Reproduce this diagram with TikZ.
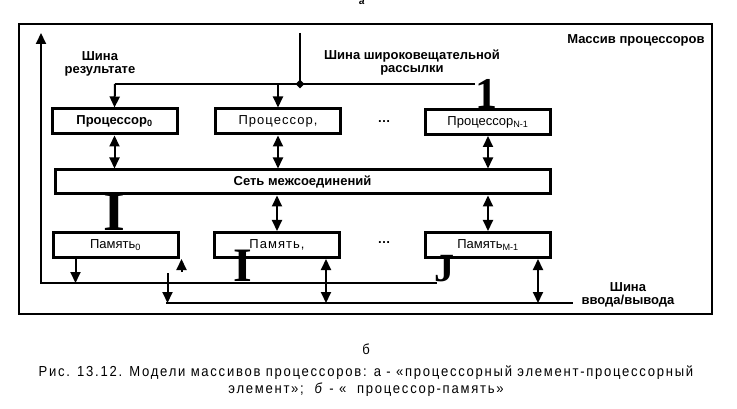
\documentclass[tikz,border=0pt]{standalone}
\usepackage{fontspec}
\setmainfont{Liberation Sans}
\newfontfamily\capfont[FakeStretch=0.9,LetterSpace=12]{Liberation Sans}
\newfontfamily\wideboxfont[LetterSpace=8]{Liberation Sans}
\newfontfamily\scanfont{Liberation Serif}
\usetikzlibrary{arrows.meta,shapes.geometric}

\begin{document}
\begin{tikzpicture}[x=1pt,y=-1pt,
        box/.style={draw,line width=3pt,minimum width=125pt,minimum height=25pt,inner sep=0pt,
          font=\fontsize{13}{13}\selectfont},
        arr/.style={line width=2pt,-{Triangle[length=11pt,width=10pt]}},
        darr/.style={line width=2pt,{Triangle[length=11pt,width=10pt]}-{Triangle[length=11pt,width=10pt]}},
        bus/.style={line width=2.6pt},
        lbl/.style={font=\bfseries\fontsize{13}{13}\selectfont,align=center,inner sep=0pt},
        scan/.style={inner sep=0pt}]
        \useasboundingbox (0,0) rectangle (737,409);
        \node[font=\itshape\bfseries\fontsize{10}{10}\selectfont] (a) at (362,2) {а};
        \node[draw,line width=1.6pt,minimum width=693pt,minimum height=290pt,inner sep=0pt] (frame) at (365.5,169) {};
        \node[lbl,anchor=north east] (title) at ([xshift=-8pt,yshift=-11pt]frame.north east) {Массив процессоров};
        % processors
        \node[box,font=\bfseries\fontsize{13}{13}\selectfont] (p0) at (114.5,121.5) {Процессор\textsubscript{0}};
        \node[box,font=\wideboxfont\fontsize{13}{13}\selectfont] (p1) at (278,121.5) {Процессор,};
        \node[box] (pn) at (488,122) {Процессор\textsubscript{N-1}};
        \node[font=\bfseries\fontsize{13}{13}\selectfont] (d1) at (384,122) {\dots};
        \node[box,minimum width=495pt,minimum height=24pt,font=\bfseries\fontsize{13}{13}\selectfont] (net) at (302.5,182) {Сеть межсоединений};
        % memories
        \node[box] (m0) at (115.5,245) {Память\textsubscript{0}};
        \node[box,font=\wideboxfont\fontsize{13}{13}\selectfont] (m1) at (277,245) {Память,};
        \node[box] (mm) at (488,245) {Память\textsubscript{M-1}};
        \node[font=\bfseries\fontsize{13}{13}\selectfont] (d2) at (384,243) {\dots};
        % broadcast bus
        \coordinate (btop) at (300,33);
        \coordinate (bj) at (300,84);
        \coordinate (bl) at (115,84);
        \coordinate (br) at (475,84);
        \draw[bus] (btop) -- (bj);
        \draw[bus] (br) -- (bl);
        \draw[arr] (bl) -- (p0.north);
        \draw[arr] (p1.north |- bl) -- (p1.north);
        \node[diamond,fill,inner sep=0pt,minimum size=9pt] (dot) at (bj) {};
        \node[lbl] (rlabel) at (100,64) {Шина\\результате};
        \node[lbl] (blabel) at (412,63) {Шина широковещательной\\рассылки};
        \draw[darr] (p0.south) -- (p0.south |- net.north);
        \draw[darr] (p1.south) -- (p1.south |- net.north);
        \draw[darr] (pn.south) -- (pn.south |- net.north);
        \draw[darr] (m1.north |- net.south) -- (m1.north);
        \draw[darr] (mm.north |- net.south) -- (mm.north);
        % result bus
        \coordinate (rb) at (41,283);
        \coordinate (rtop) at (41,33);
        \coordinate (rj) at (437,283);
        \draw[arr] (rj) -- (rb) -- (rtop);
        \coordinate (m0a) at ([xshift=24pt]m0.south west);
        \draw[arr] (m0a) -- (m0a |- rb);
        % i/o bus
        \coordinate (io) at (166,303);
        \coordinate (ioe) at (573,303);
        \draw[bus] (io) -- (ioe);
        \coordinate (m0b) at ([xshift=-12pt]m0.south east);
        \draw[arr] ([yshift=-14pt]m0b) -- (m0b |- io);
        \draw[arr] ([xshift=2pt,yshift=-13pt]m0.south east) -- ([xshift=2pt]m0.south east);
        \coordinate (m1b) at ([xshift=-15pt]m1.south east);
        \draw[darr] (m1b) -- (m1b |- io);
        \coordinate (mmb) at ([xshift=-14pt]mm.south east);
        \draw[darr] (mmb) -- (mmb |- io);
        \node[lbl] (iolabel) at (628,295) {Шина\\ввода/вывода};
        % big scanned glyphs
        \node[scan,font=\scanfont\bfseries\fontsize{44}{44}\selectfont] (g1) at (486,94) {1};
        \node[scan,anchor=south,font=\scanfont\bfseries\fontsize{56}{56}\selectfont] (gi1) at (114,230.5) {I};
        \node[scan,font=\scanfont\bfseries\fontsize{48}{48}\selectfont] (gi2) at (243,266) {I};
        \node[scan,font=\scanfont\bfseries\fontsize{40}{40}\selectfont] (gj) at (444,269) {J};
        % caption
        \node[font=\capfont\fontsize{14.5}{14.5}\selectfont] (b) at (366,349) {б};
        \node[font=\capfont\fontsize{14.5}{16.5}\selectfont,align=center] (cap) at (366,381)
          {Рис. 13.12. Модели массивов процессоров: а - «процессорный элемент-процессорный\\
           элемент»;\ \ \textit{б} - «\ \ процессор-память»};
      \end{tikzpicture}
\end{document}
